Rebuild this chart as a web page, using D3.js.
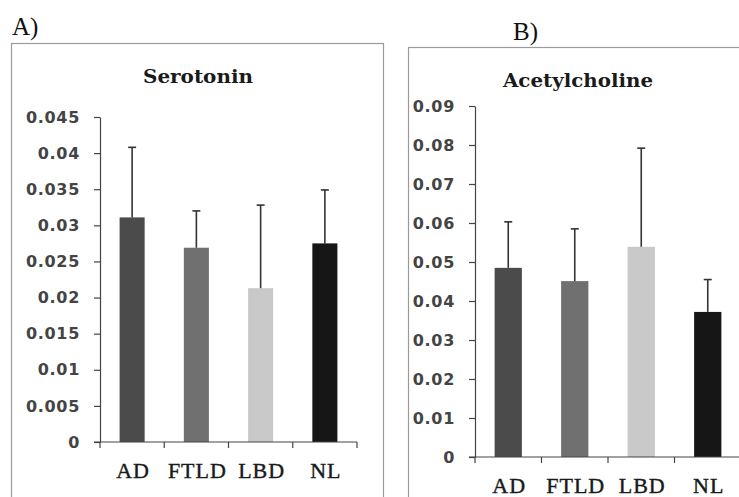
<!DOCTYPE html>
<html>
<head>
<meta charset="utf-8">
<script src="https://cdn.jsdelivr.net/npm/d3@7"></script>
<style>
  html, body { margin: 0; padding: 0; background: #fff; }
  svg { display: block; }
</style>
</head>
<body>
<svg id="chart" width="739" height="497"></svg>
<script>
// Group labels shared by both panels
const categories = ["AD", "FTLD", "LBD", "NL"];
const barColors = ["#4b4b4b", "#707070", "#c9c9c9", "#161616"];

// Panel A: serotonin (mean and upper error)
const serotoninMeans  = [0.0311, 0.0269, 0.0213, 0.0275];
const serotoninErrors = [0.0097, 0.0051, 0.0115, 0.0074];
const serotoninTicks  = [0, 0.005, 0.01, 0.015, 0.02, 0.025, 0.03, 0.035, 0.04, 0.045];
const serotoninTickLabels = ["0", "0.005", "0.01", "0.015", "0.02", "0.025", "0.03", "0.035", "0.04", "0.045"];

// Panel B: acetylcholine (mean and upper error)
const acetylcholineMeans  = [0.0485, 0.0451, 0.0539, 0.0372];
const acetylcholineErrors = [0.0118, 0.0134, 0.0253, 0.0083];
const acetylcholineTicks  = [0, 0.01, 0.02, 0.03, 0.04, 0.05, 0.06, 0.07, 0.08, 0.09];
const acetylcholineTickLabels = ["0", "0.01", "0.02", "0.03", "0.04", "0.05", "0.06", "0.07", "0.08", "0.09"];

const svg = d3.select("#chart");

const panels = [
  {
    letter: "A)", letterX: 12, letterY: 35,
    title: "Serotonin", titleX: 198, titleY: 83, titleWidth: 110,
    box: { x: 11.5, y: 43.5, w: 372, h: 460 },
    means: serotoninMeans, errors: serotoninErrors,
    ticks: serotoninTicks, tickLabels: serotoninTickLabels,
    x0: 100, x1: 357, yTop: 117, yBottom: 442, barFrac: 0.39
  },
  {
    letter: "B)", letterX: 513, letterY: 40,
    title: "Acetylcholine", titleX: 578, titleY: 87, titleWidth: 150,
    box: { x: 408.5, y: 47.5, w: 400, h: 460 },
    means: acetylcholineMeans, errors: acetylcholineErrors,
    ticks: acetylcholineTicks, tickLabels: acetylcholineTickLabels,
    x0: 475, x1: 741, yTop: 106, yBottom: 457, barFrac: 0.41
  }
];

panels.forEach(p => {
  const g = svg.append("g");

  // panel frame
  g.append("rect")
    .attr("x", p.box.x).attr("y", p.box.y)
    .attr("width", p.box.w).attr("height", p.box.h)
    .attr("fill", "none").attr("stroke", "#9a9a9a").attr("stroke-width", 1.2);

  // panel letter
  g.append("text")
    .attr("x", p.letterX).attr("y", p.letterY)
    .attr("font-family", "Liberation Serif, serif")
    .attr("font-size", 25).attr("fill", "#111")
    .text(p.letter);

  // panel title
  g.append("text")
    .attr("x", p.titleX).attr("y", p.titleY)
    .attr("text-anchor", "middle")
    .attr("font-family", "DejaVu Serif, serif")
    .attr("font-weight", "bold")
    .attr("font-size", 18).attr("fill", "#1a1a1a")
    .attr("textLength", p.titleWidth)
    .attr("lengthAdjust", "spacingAndGlyphs")
    .text(p.title);

  const y = d3.scaleLinear()
    .domain([0, p.ticks[p.ticks.length - 1]])
    .range([p.yBottom, p.yTop]);

  const x = d3.scaleBand()
    .domain(categories)
    .range([p.x0, p.x1])
    .paddingInner(0).paddingOuter(0);

  const barW = x.bandwidth() * p.barFrac;

  // bars
  g.selectAll("rect.bar")
    .data(categories)
    .join("rect")
    .attr("class", "bar")
    .attr("x", c => x(c) + x.bandwidth() / 2 - barW / 2)
    .attr("y", (c, i) => y(p.means[i]))
    .attr("width", barW)
    .attr("height", (c, i) => y(0) - y(p.means[i]))
    .attr("fill", (c, i) => barColors[i]);

  // upper error bars
  const err = g.selectAll("g.err")
    .data(categories)
    .join("g")
    .attr("class", "err")
    .attr("stroke", "#333")
    .attr("stroke-width", 1.6);
  err.append("line")
    .attr("x1", c => x(c) + x.bandwidth() / 2)
    .attr("x2", c => x(c) + x.bandwidth() / 2)
    .attr("y1", (c, i) => y(p.means[i]))
    .attr("y2", (c, i) => y(p.means[i] + p.errors[i]));
  err.append("line")
    .attr("x1", c => x(c) + x.bandwidth() / 2 - 4)
    .attr("x2", c => x(c) + x.bandwidth() / 2 + 4)
    .attr("y1", (c, i) => y(p.means[i] + p.errors[i]))
    .attr("y2", (c, i) => y(p.means[i] + p.errors[i]));

  // y axis
  const yAxis = d3.axisLeft(y)
    .tickValues(p.ticks)
    .tickFormat((d, i) => p.tickLabels[i])
    .tickSize(6).tickSizeOuter(0)
    .tickPadding(14);
  const ya = g.append("g")
    .attr("transform", `translate(${p.x0},0)`)
    .call(yAxis);
  ya.select(".domain").attr("stroke", "#444").attr("stroke-width", 1.2);
  ya.selectAll(".tick line").attr("stroke", "#444").attr("stroke-width", 1.2);
  ya.selectAll(".tick text")
    .attr("font-family", "DejaVu Sans, sans-serif")
    .attr("font-weight", "bold")
    .attr("font-size", 16)
    .attr("letter-spacing", "0.7px")
    .attr("fill", "#444");

  // x axis: line with ticks at the group boundaries, labels centred under bars
  const bounds = categories.map(c => x(c)).concat([x.range()[1]]);
  const xa = g.append("g").attr("stroke", "#444").attr("stroke-width", 1.2);
  xa.append("line")
    .attr("x1", p.x0 - 6).attr("x2", p.x1)
    .attr("y1", y(0)).attr("y2", y(0));
  xa.selectAll("line.bt")
    .data(bounds)
    .join("line")
    .attr("class", "bt")
    .attr("x1", d => d).attr("x2", d => d)
    .attr("y1", y(0)).attr("y2", y(0) + 6);

  g.selectAll("text.cat")
    .data(categories)
    .join("text")
    .attr("class", "cat")
    .attr("x", c => x(c) + x.bandwidth() / 2 + 1)
    .attr("y", y(0) + 36)
    .attr("text-anchor", "middle")
    .attr("font-family", "Liberation Serif, serif")
    .attr("font-size", 22)
    .attr("letter-spacing", "1px")
    .attr("fill", "#1a1a1a")
    .attr("stroke", "#1a1a1a").attr("stroke-width", 0.4)
    .text(c => c);
});
</script>
</body>
</html>
